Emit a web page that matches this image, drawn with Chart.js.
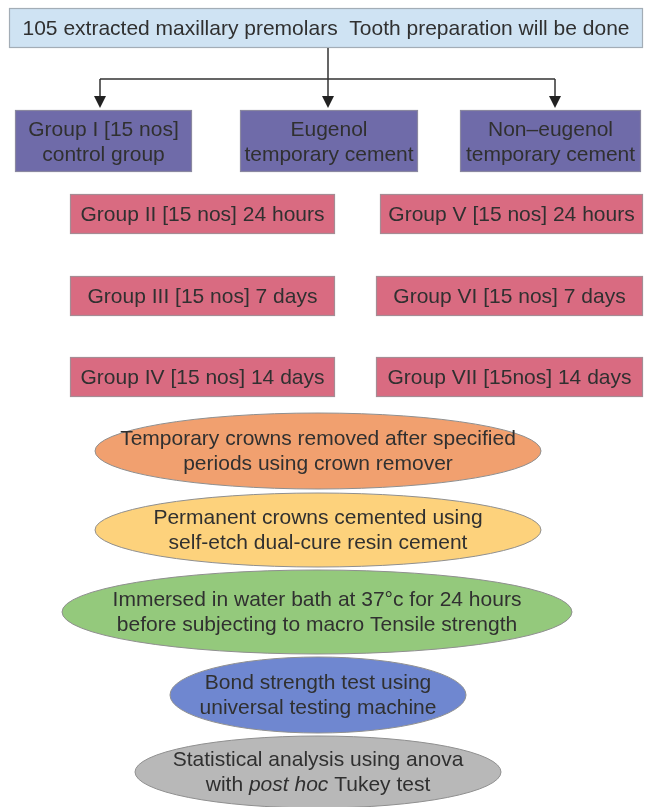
<!DOCTYPE html>
<html>
<head>
<meta charset="utf-8">
<script src="https://cdn.jsdelivr.net/npm/chart.js@4.4.1/dist/chart.umd.min.js"></script>
<style>
html,body{margin:0;padding:0;background:#fff;}
#wrap{width:648px;height:807px;position:relative;}
</style>
</head>
<body>
<div id="wrap"><canvas id="c" width="648" height="807"></canvas></div>
<script>
// ---- content (text) ----
const topLabel = ["105 extracted maxillary premolars  Tooth preparation will be done"];
const groupLabels = [
  ["Group I [15 nos]", "control group"],
  ["Eugenol", "temporary cement"],
  ["Non\u2013eugenol", "temporary cement"]
];
const eugenolLabels = ["Group II [15 nos] 24 hours", "Group III [15 nos] 7 days", "Group IV [15 nos] 14 days"];
const nonEugenolLabels = ["Group V [15 nos] 24 hours", "Group VI [15 nos] 7 days", "Group VII [15nos] 14 days"];
const stepLabels = [
  ["Temporary crowns removed after specified", "periods using crown remover"],
  ["Permanent crowns cemented using", "self-etch dual-cure resin cement"],
  ["Immersed in water bath at 37\u00b0c for 24 hours", "before subjecting to macro Tensile strength"],
  ["Bond strength test using", "universal testing machine"],
  ["Statistical analysis using anova", "with *post hoc* Tukey test"]
];

// ---- layout (diagram coordinates, separate from content) ----
const topBox = [9, 8, 643, 48];
const groupBoxes = [[15, 110, 192, 172], [240, 110, 418, 172], [460, 110, 641, 172]];
const eugenolBoxes = [[70, 194, 335, 234], [70, 276, 335, 316], [70, 357, 335, 397]];
const nonEugenolBoxes = [[380, 194, 643, 234], [376, 276, 643, 316], [376, 357, 643, 397]];
const stepEllipses = [[318, 451, 223, 38], [318, 530, 223, 37], [317, 612, 255, 42], [318, 695, 148, 38], [318, 772, 183, 36]];
const trunkX = 328, branchY = 79, arrowTipY = 108;
const arrowXs = [100, 328, 555];

// ---- styles ----
const textColor = "#303030";
const lineColor = "#333333";
const topFill = "#cfe3f3", topStroke = "#a3adb6";
const groupFill = "#6f6ba9", groupStroke = "#8a88a0";
const periodFill = "#d96b81", periodStroke = "#a58c94";
const stepFills = ["#f1a06f", "#fdd27c", "#94c97c", "#6f87d0", "#b8b8b8"];
const ellipseStroke = "#8f8f8f";
const FONT = "'Liberation Sans', Arial, sans-serif";
const FS = 21;

function centerOf(b){ return {x:(b[0]+b[2])/2, y:(b[1]+b[3])/2}; }
const centers = [centerOf(topBox)]
  .concat(groupBoxes.map(centerOf), eugenolBoxes.map(centerOf), nonEugenolBoxes.map(centerOf))
  .concat(stepEllipses.map(e => ({x:e[0], y:e[1]})));

function drawLines(ctx, lines, cx, cy, size, spacing){
  const n = lines.length;
  ctx.fillStyle = textColor;
  ctx.textBaseline = "middle";
  lines.forEach((ln, i) => {
    const y = cy + (i - (n-1)/2) * spacing;
    const parts = ln.split("*").map((t, k) => ({t, it: k % 2 === 1}));
    let w = 0;
    parts.forEach(p => { ctx.font = (p.it ? "italic " : "") + size + "px " + FONT; p.w = ctx.measureText(p.t).width; w += p.w; });
    let x = cx - w/2;
    ctx.textAlign = "left";
    parts.forEach(p => { ctx.font = (p.it ? "italic " : "") + size + "px " + FONT; ctx.fillText(p.t, x, y); x += p.w; });
  });
}

const flowPlugin = {
  id: "flow",
  afterDatasetsDraw(chart){
    const ctx = chart.ctx, sx = chart.scales.x, sy = chart.scales.y;
    const X = v => sx.getPixelForValue(v), Y = v => sy.getPixelForValue(v);
    ctx.save();
    function rect(b, fill, stroke){
      const x1 = X(b[0]), y1 = Y(b[1]), x2 = X(b[2]), y2 = Y(b[3]);
      ctx.fillStyle = fill; ctx.fillRect(x1, y1, x2-x1, y2-y1);
      ctx.strokeStyle = stroke; ctx.lineWidth = 1.2; ctx.strokeRect(x1+0.5, y1+0.5, x2-x1-1, y2-y1-1);
    }
    // top box
    rect(topBox, topFill, topStroke);
    drawLines(ctx, topLabel, X((topBox[0]+topBox[2])/2), Y((topBox[1]+topBox[3])/2)+1, FS, 22);
    // connectors
    ctx.strokeStyle = lineColor; ctx.lineWidth = 1.5;
    ctx.beginPath();
    ctx.moveTo(X(trunkX), Y(topBox[3])); ctx.lineTo(X(trunkX), Y(arrowTipY-10));
    ctx.moveTo(X(arrowXs[0]), Y(branchY)); ctx.lineTo(X(arrowXs[2]), Y(branchY));
    arrowXs.forEach(ax => { ctx.moveTo(X(ax), Y(branchY)); ctx.lineTo(X(ax), Y(arrowTipY-10)); });
    ctx.stroke();
    ctx.fillStyle = "#222";
    arrowXs.forEach(ax => {
      ctx.beginPath();
      ctx.moveTo(X(ax-6), Y(arrowTipY-12)); ctx.lineTo(X(ax+6), Y(arrowTipY-12)); ctx.lineTo(X(ax), Y(arrowTipY));
      ctx.closePath(); ctx.fill();
    });
    // group boxes
    groupBoxes.forEach((b, i) => { rect(b, groupFill, groupStroke); const c = centerOf(b); drawLines(ctx, groupLabels[i], X(c.x), Y(c.y)+2, FS, 25); });
    eugenolBoxes.forEach((b, i) => { rect(b, periodFill, periodStroke); const c = centerOf(b); drawLines(ctx, [eugenolLabels[i]], X(c.x), Y(c.y)+1, FS, 24); });
    nonEugenolBoxes.forEach((b, i) => { rect(b, periodFill, periodStroke); const c = centerOf(b); drawLines(ctx, [nonEugenolLabels[i]], X(c.x), Y(c.y)+1, FS, 24); });
    // ellipses
    stepEllipses.forEach((e, i) => {
      const cx = X(e[0]), cy = Y(e[1]);
      const rx = Math.abs(X(e[0]+e[2]) - cx), ry = Math.abs(Y(e[1]+e[3]) - cy);
      ctx.beginPath(); ctx.ellipse(cx, cy, rx, ry, 0, 0, Math.PI*2);
      ctx.fillStyle = stepFills[i]; ctx.fill();
      ctx.strokeStyle = ellipseStroke; ctx.lineWidth = 1; ctx.stroke();
      drawLines(ctx, stepLabels[i], cx, cy+1, FS, 25);
    });
    ctx.restore();
  }
};

new Chart(document.getElementById("c"), {
  type: "scatter",
  data: { datasets: [{ label: "nodes", data: centers, pointRadius: 0, showLine: false }] },
  options: {
    responsive: false, animation: false, devicePixelRatio: 1,
    layout: { padding: 0 },
    plugins: { legend: { display: false }, tooltip: { enabled: false } },
    scales: {
      x: { type: "linear", min: 0, max: 648, display: false },
      y: { type: "linear", min: 0, max: 807, reverse: true, display: false }
    }
  },
  plugins: [flowPlugin]
});
</script>
</body>
</html>
